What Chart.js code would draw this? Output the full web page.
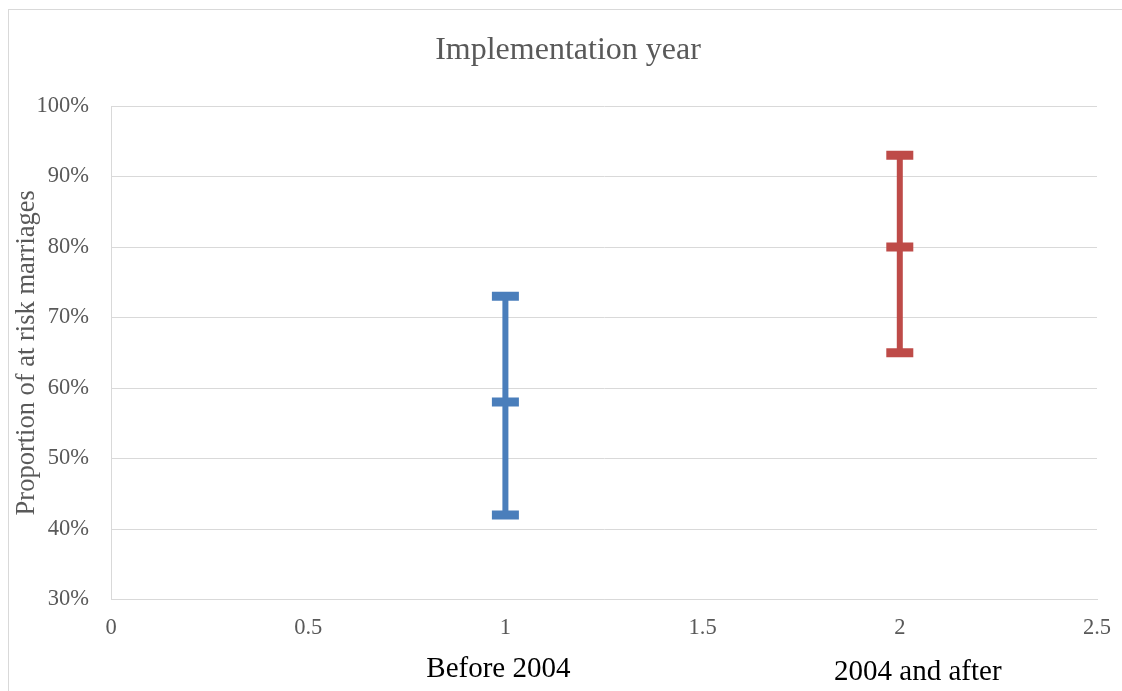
<!DOCTYPE html>
<html>
<head>
<meta charset="utf-8">
<script src="https://cdn.jsdelivr.net/npm/chart.js@4"></script>
<style>
  html, body { margin: 0; padding: 0; background: #fff; overflow: hidden; }
  #wrap { position: relative; width: 1122px; height: 691px; }
  #frame { position: absolute; left: 8px; top: 9px; width: 1200px; height: 800px;
           border-left: 1px solid #d9d9d9; border-top: 1px solid #d9d9d9; pointer-events: none; }
  canvas { position: absolute; left: 0; top: 0; }
</style>
</head>
<body>
<div id="wrap">
  <canvas id="myChart" width="1122" height="691"></canvas>
  <div id="frame"></div>
</div>
<script>
const ctx = document.getElementById('myChart').getContext('2d');

const chartTitle = 'Implementation year';

// groups on the x axis
const groups = ['Before 2004', '2004 and after'];
const groupX = [1, 2];

// error bars: low, mid, high (percent)
const beforeVals = [42, 58, 73];
const afterVals = [65, 80, 93];

const colors = ['#4a7ebb', '#be4b48'];

const serif = '"Liberation Serif", "Times New Roman", serif';

// title + group names under the numeric x axis
const extraText = {
    id: 'extraText',
    afterDraw(chart) {
        const x = chart.scales.x;
        const c = chart.ctx;
        c.save();
        c.textAlign = 'center';
        c.textBaseline = 'alphabetic';

        c.font = '32px ' + serif;
        c.fillStyle = '#595959';
        c.fillText(chartTitle, 568, 59);

        c.font = '29px ' + serif;
        c.fillStyle = '#000';
        c.fillText(groups[0], x.getPixelForValue(groupX[0]) - 7, x.bottom + 36);
        c.fillText(groups[1], x.getPixelForValue(groupX[1]) + 18, x.bottom + 39);
        c.restore();
    }
};

const makeSet = (vals, i) => ({
    label: groups[i],
    data: vals.map(v => ({x: groupX[i], y: v})),
    showLine: true,
    borderColor: colors[i],
    borderWidth: 6,
    pointStyle: 'line',
    pointRadius: 13.5,
    pointBorderWidth: 9,
    pointBorderColor: colors[i],
    pointBackgroundColor: colors[i],
});

const myChart = new Chart(ctx, {
    type: 'scatter',
    data: {
        datasets: [makeSet(beforeVals, 0), makeSet(afterVals, 1)]
    },
    options: {
        responsive: false,
        animation: false,
        events: [],
        layout: { padding: { left: 0, right: 25, top: 106, bottom: 50.5 } },
        plugins: {
            legend: { display: false },
            tooltip: { enabled: false },
            title: { display: false }
        },
        scales: {
            x: {
                type: 'linear',
                min: 0,
                max: 2.5,
                ticks: {
                    stepSize: 0.5,
                    color: '#595959',
                    padding: 15,
                    font: { family: serif, size: 22.5 },
                    callback: v => String(v)
                },
                grid: { display: false, drawTicks: false },
                border: { display: true, color: '#d9d9d9', width: 1 },
                afterFit: s => {
                    s.height = 41;
                    s.paddingLeft = 0;
                    s.paddingRight = 0;
                }
            },
            y: {
                min: 30,
                max: 100,
                ticks: {
                    stepSize: 10,
                    color: '#595959',
                    padding: 22,
                    font: { family: serif, size: 22.5 },
                    callback: v => v + '%'
                },
                grid: { color: '#d9d9d9', lineWidth: 1, drawTicks: false },
                border: { display: true, color: '#d9d9d9', width: 1 },
                title: {
                    display: true,
                    text: 'Proportion of at risk marriages',
                    color: '#595959',
                    font: { family: serif, size: 26.5 },
                    padding: { top: 11, bottom: 0 }
                },
                afterFit: s => { s.width = 111; }
            }
        }
    },
    plugins: [extraText]
});
</script>
</body>
</html>
